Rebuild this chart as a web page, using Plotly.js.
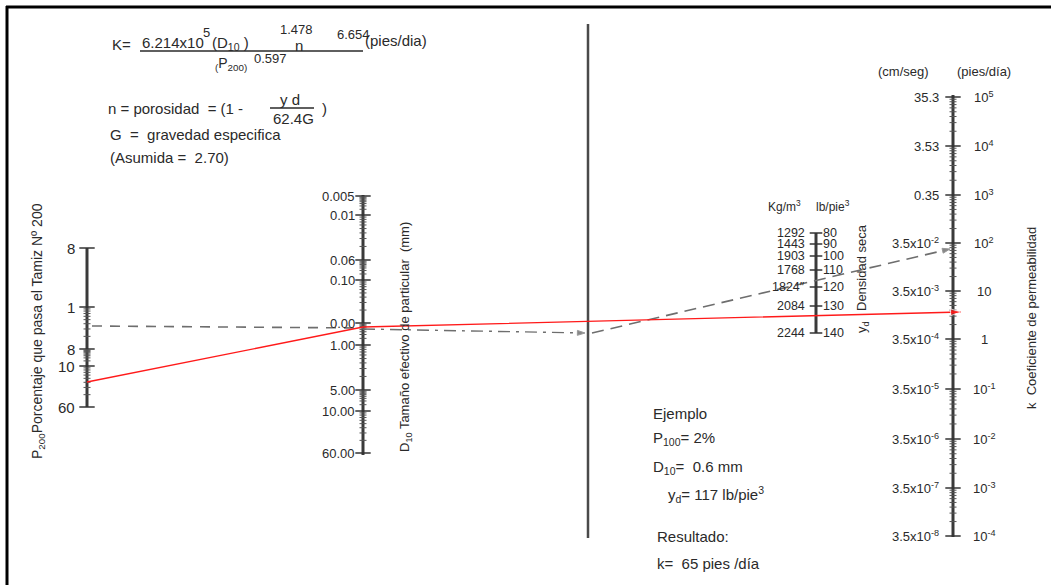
<!DOCTYPE html>
<html><head><meta charset="utf-8">
<script src="https://cdn.plot.ly/plotly-3.0.1.min.js"></script>
<style>html,body{margin:0;padding:0;background:#fff}</style>
</head><body><div id="chart" style="width:1051px;height:585px"></div>
<script>
// ---------- Scale data (labels and where each reading sits on the nomogram) ----------
const p200Labels = ["8", "1", "8", "10", "60"];
const p200TickY  = [248, 307, 349, 366, 407];

const d10Labels = ["0.005", "0.01", "0.06", "0.10", "0.00", "1.00", "5.00", "10.00", "60.00"];
const d10TickY  = [196, 215, 260, 280, 323, 345, 390, 411, 453];

const densKgLabels = ["1292", "1443", "1903", "1768", "1824\u2033", "2084", "2244"];
const densLbLabels = ["80", "90", "100", "110", "120", "130", "140"];
const densTickY    = [233, 244, 256, 270, 287, 306, 333];

const kCmLabels = ["35.3", "3.53", "0.35", "3.5x10<sup>-2</sup>", "3.5x10<sup>-3</sup>", "3.5x10<sup>-4</sup>",
                   "3.5x10<sup>-5</sup>", "3.5x10<sup>-6</sup>", "3.5x10<sup>-7</sup>", "3.5x10<sup>-8</sup>"];
const kPiesLabels = ["10<sup>5</sup>", "10<sup>4</sup>", "10<sup>3</sup>", "10<sup>2</sup>", "10", "1",
                     "10<sup>-1</sup>", "10<sup>-2</sup>", "10<sup>-3</sup>", "10<sup>-4</sup>"];
const kTickY = [97, 146, 195, 243, 291, 339, 389, 439, 488, 536];

// Example solution paths (readings on each scale)
const greyPathX1 = [92, 363];  const greyPathY1 = [326, 328];
const greyPathX2 = [363, 585]; const greyPathY2 = [329, 333];
const greyPathX3 = [592, 950]; const greyPathY3 = [333, 249];
const redPathX = [87, 363, 961]; const redPathY = [382, 327, 312];

// ---------- Layout constants ----------
const FONT = "Liberation Sans, Arial, sans-serif";
const INK = "#2a2a2a";
const scaleX = {p200: 87, d10: 363, center: 588, dens: 816, k: 953};

const traces = [];
const annotations = [];

function ann(x, y, text, o) {
  o = o || {};
  annotations.push({
    x: x, y: y, xref: "x", yref: "y", text: text, showarrow: false,
    xanchor: o.xa || "left", yanchor: o.ya || "middle", textangle: o.angle || 0,
    font: {family: FONT, size: o.size || 13, color: o.color || INK}
  });
}
function vline(x, y0, y1, w, c) {
  traces.push({type: "scatter", mode: "lines", x: [x, x], y: [y0, y1], hoverinfo: "skip",
    line: {color: c || "#3a3a3a", width: w || 3}});
}
function ticks(x, ys, size, w, c) {
  traces.push({type: "scatter", mode: "markers", x: ys.map(() => x), y: ys, hoverinfo: "skip",
    marker: {symbol: "line-ew", size: size, color: c || "#333", line: {color: c || "#333", width: w}}});
}
function logMinor(pos) {
  const out = [];
  for (let i = 0; i < pos.length - 1; i++) {
    const a = pos[i], b = pos[i + 1];
    for (let m = 2; m <= 9; m++) out.push(b - Math.log10(m) * (b - a));
  }
  return out;
}

// ---------- P200 scale ----------
vline(scaleX.p200, p200TickY[0], p200TickY[p200TickY.length - 1]);
ticks(scaleX.p200, p200TickY, 11, 1.5);
ticks(scaleX.p200, logMinor(p200TickY.slice(1)), 5, 1, "#555");
p200Labels.forEach((t, i) => ann(77, p200TickY[i], t, {xa: "right", size: 15}));
ann(38, 331, "P<sub>200</sub>Porcentaje que pasa el Tamiz N\u00ba 200", {angle: -90, xa: "center", size: 14});

// ---------- D10 scale ----------
vline(scaleX.d10, d10TickY[0] - 1, d10TickY[d10TickY.length - 1] + 2);
ticks(scaleX.d10, d10TickY, 11, 1.5);
ticks(scaleX.d10, logMinor(d10TickY), 5, 1, "#555");
d10Labels.forEach((t, i) => ann(357, d10TickY[i], t, {xa: "right", size: 13}));
ann(405, 337, "D<sub>10</sub> Tama\u00f1o efectivo de particular  (mm)", {angle: -90, xa: "center", size: 13});

// ---------- Central turning line ----------
vline(scaleX.center, 24, 538, 2.5, "#4a4a4a");

// ---------- Dry density scale ----------
vline(scaleX.dens, densTickY[0], densTickY[densTickY.length - 1], 3);
ticks(scaleX.dens, densTickY, 9, 1.5);
densKgLabels.forEach((t, i) => ann(807, densTickY[i], t, {xa: "right", size: 12.5}));
densLbLabels.forEach((t, i) => ann(821, densTickY[i], t, {xa: "left", size: 12.5}));
ann(784, 206, "Kg/m<sup>3</sup>", {xa: "center", size: 12});
ann(833, 206, "lb/pie<sup>3</sup>", {xa: "center", size: 12});
ann(861, 268, "Densidad seca", {angle: -90, xa: "center", size: 13});
ann(862, 327, "y<sub>d</sub>", {angle: -90, xa: "center", size: 13});

// ---------- Permeability scale ----------
vline(scaleX.k, kTickY[0] - 2, kTickY[kTickY.length - 1] + 1, 3);
ticks(scaleX.k, kTickY, 11, 1.5);
ticks(scaleX.k, logMinor(kTickY), 5, 1, "#555");
kCmLabels.forEach((t, i) => ann(941, kTickY[i], t, {xa: "right", size: 13}));
kPiesLabels.forEach((t, i) => ann(984, kTickY[i], t, {xa: "center", size: 13}));
ann(903, 71, "(cm/seg)", {xa: "center", size: 13});
ann(984, 71, "(pies/d\u00eda)", {xa: "center", size: 13});
ann(1031, 318, "k  Coeficiente de permeabilidad", {angle: -90, xa: "center", size: 13});

// ---------- Example paths ----------
traces.push({type: "scatter", mode: "lines", x: greyPathX1, y: greyPathY1, hoverinfo: "skip",
  line: {color: "#6e6e6e", width: 1.6, dash: "10px,8px"}});
traces.push({type: "scatter", mode: "lines+markers", x: greyPathX2, y: greyPathY2, hoverinfo: "skip",
  line: {color: "#6e6e6e", width: 1.4, dash: "12px,6px,3px,6px"},
  marker: {symbol: "arrow", angleref: "previous", size: [0, 8], color: "#555"}});
traces.push({type: "scatter", mode: "lines+markers", x: greyPathX3, y: greyPathY3, hoverinfo: "skip",
  line: {color: "#6e6e6e", width: 1.6, dash: "12px,7px"},
  marker: {symbol: "arrow", angleref: "previous", size: [0, 8], color: "#555"}});
traces.push({type: "scatter", mode: "lines+markers", x: redPathX, y: redPathY, hoverinfo: "skip",
  line: {color: "#ff1a1a", width: 1.3},
  marker: {symbol: "arrow", angleref: "previous", size: [0, 0, 11], color: "#ff1a1a"}});

// ---------- Formula block ----------
ann(110, 44, "K=", {size: 15});
ann(140, 42, "6.214x10", {size: 15});
ann(201, 32, "5", {size: 13});
ann(210, 43, "(D<sub>10</sub> )", {size: 15});
ann(278, 29, "1.478", {size: 13});
ann(293, 45, "n", {size: 15});
ann(335, 34, "6.654", {size: 13});
ann(363, 40, "(pies/dia)", {size: 15});
ann(213, 64, "<sub>(</sub>P<sub>200)</sub>", {size: 14});
ann(252, 58, "0.597", {size: 13});
ann(106, 108, "n = porosidad  = (1 - ", {size: 15});
ann(290, 99, "y d", {xa: "center", size: 15});
ann(293, 118, "62.4G", {xa: "center", size: 15});
ann(320, 108, ")", {size: 15});
ann(108, 134, "G  =  gravedad especifica", {size: 15});
ann(108, 157, "(Asumida =  2.70)", {size: 15});

// ---------- Example block ----------
ann(651, 413, "Ejemplo", {size: 15});
ann(651, 438, "P<sub>100</sub>= 2%", {size: 15});
ann(651, 467, "D<sub>10</sub>=  0.6 mm", {size: 15});
ann(666, 494, "y<sub>d</sub>= 117 lb/pie<sup>3</sup>", {size: 15});
ann(655, 536, "Resultado:", {size: 15});
ann(655, 563, "k=  65 pies /d\u00eda", {size: 15});

const shapes = [
  {type: "line", xref: "x", yref: "y", x0: 140, x1: 363, y0: 51, y1: 51, line: {color: INK, width: 1.5}},
  {type: "line", xref: "x", yref: "y", x0: 270, x1: 314, y0: 108, y1: 108, line: {color: INK, width: 1.3}},
  {type: "line", xref: "x", yref: "y", x0: 6, x1: 1051, y0: 7, y1: 7, line: {color: "#000", width: 3}},
  {type: "line", xref: "x", yref: "y", x0: 7, x1: 7, y0: 6, y1: 585, line: {color: "#000", width: 3}}
];

const layout = {
  width: 1051, height: 585, margin: {l: 0, r: 0, t: 0, b: 0},
  paper_bgcolor: "#fff", plot_bgcolor: "#fff", showlegend: false,
  xaxis: {range: [0, 1051], visible: false, fixedrange: true},
  yaxis: {range: [585, 0], visible: false, fixedrange: true},
  annotations: annotations, shapes: shapes
};
Plotly.newPlot("chart", traces, layout, {staticPlot: true, displayModeBar: false});
</script></body></html>
